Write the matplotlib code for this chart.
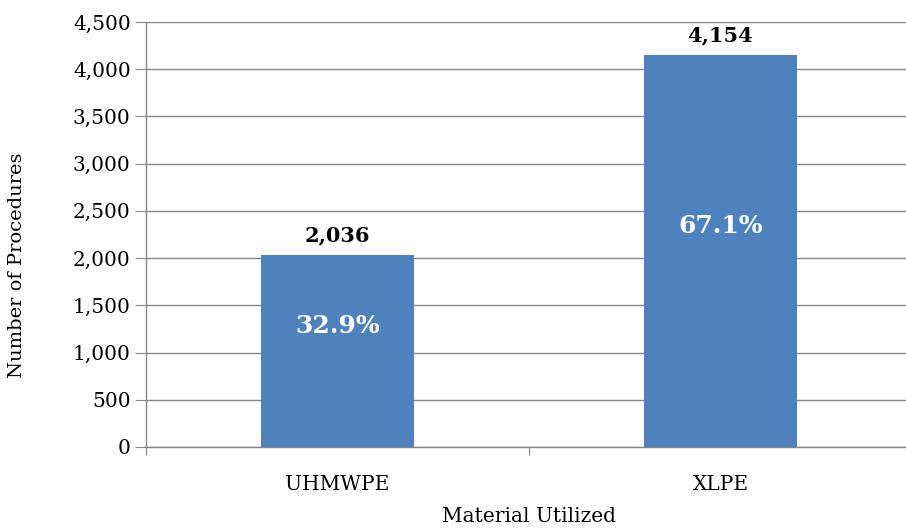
import matplotlib
matplotlib.use("Agg")
import matplotlib.pyplot as plt

categories = ["UHMWPE", "XLPE"]
counts = [2036, 4154]
percents = ["32.9%", "67.1%"]
yticks = [0, 500, 1000, 1500, 2000, 2500, 3000, 3500, 4000, 4500]

plt.rcParams['font.family'] = ['DejaVu Serif']
fig = plt.figure(figsize=(9.06, 5.31), dpi=100)
W, H = 906, 531
ax = fig.add_axes([146 / W, (H - 447) / H, (912 - 146) / W, 425 / H])

x = list(range(len(categories)))
bars = ax.bar(x, counts, width=0.4, color="#4F81BD", zorder=3)
ax.set_xlim(-0.5, 1.5)
ax.set_ylim(0, 4500)
ax.set_yticks(yticks)
ax.set_yticklabels([f"{v:,}" for v in yticks], fontsize=14.5)
ax.set_xticks([-0.5, 0.5, 1.5])
ax.set_xticklabels([])
ax.set_xticks(x, minor=True)
ax.set_xticklabels(categories, minor=True, fontsize=14.5)
ax.tick_params(axis='x', which='minor', length=0, pad=20)
ax.tick_params(axis='x', which='major', length=6, color="#868686", direction='out')
ax.tick_params(axis='y', length=8, color="#868686", direction='out', pad=3)
ax.yaxis.grid(True, color="#868686", linewidth=1.0, zorder=0)
for s in ["top", "right"]:
    ax.spines[s].set_visible(False)
for s in ["left", "bottom"]:
    ax.spines[s].set_color("#868686")
    ax.spines[s].set_linewidth(1.0)

for xi, c, p in zip(x, counts, percents):
    ax.annotate(f"{c:,}", (xi, c), xytext=(0, 7), textcoords="offset points",
                ha="center", va="bottom", fontsize=15, fontweight="bold")
    ax.annotate(p, (xi, c / 2), xytext=(0, 18), textcoords="offset points",
                ha="center", va="center", fontsize=18, fontweight="bold", color="white")

fig.text(17 / W, 1 - 265 / H, "Number of Procedures", rotation=90, ha="center", va="center", fontsize=14)
fig.text(529 / W, 1 - 517 / H, "Material Utilized", ha="center", va="center", fontsize=14.5)

fig.savefig("out.png", dpi=100)
